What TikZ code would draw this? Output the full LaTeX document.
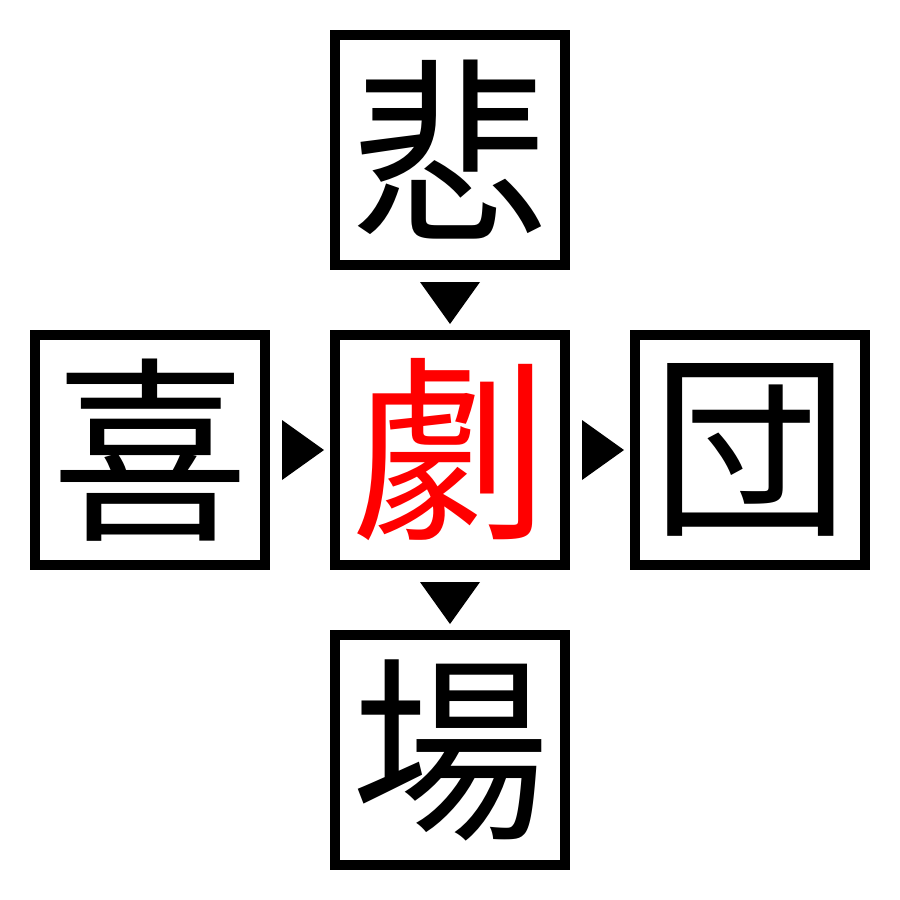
\documentclass[tikz,border=0pt]{standalone}
\usepackage{fontspec}
\newfontfamily\cjk{Noto Sans CJK JP}
\begin{document}
\begin{tikzpicture}[x=1pt,y=-1pt,
  kbox/.style={draw=black,line width=10pt,minimum width=230pt,minimum height=230pt,inner sep=0pt,font=\cjk\fontsize{198}{198}\selectfont},
  tri/.style={fill=black,draw=none}]
\useasboundingbox (0,0) rectangle (900,900);
\fill[white] (0,0) rectangle (900,900);
\node[kbox] (top) at (450,150) {悲};
\node[kbox] (left) at (150,450) {喜};
\node[kbox,text=red] (center) at (450,450) {劇};
\node[kbox] (right) at (750,450) {団};
\node[kbox] (bottom) at (450,750) {場};
\fill[tri] (420,282) -- (480,282) -- (450,324) -- cycle;
\fill[tri] (420,582) -- (480,582) -- (450,624) -- cycle;
\fill[tri] (282,420) -- (282,480) -- (324,450) -- cycle;
\fill[tri] (582,420) -- (582,480) -- (624,450) -- cycle;
\end{tikzpicture}
\end{document}
